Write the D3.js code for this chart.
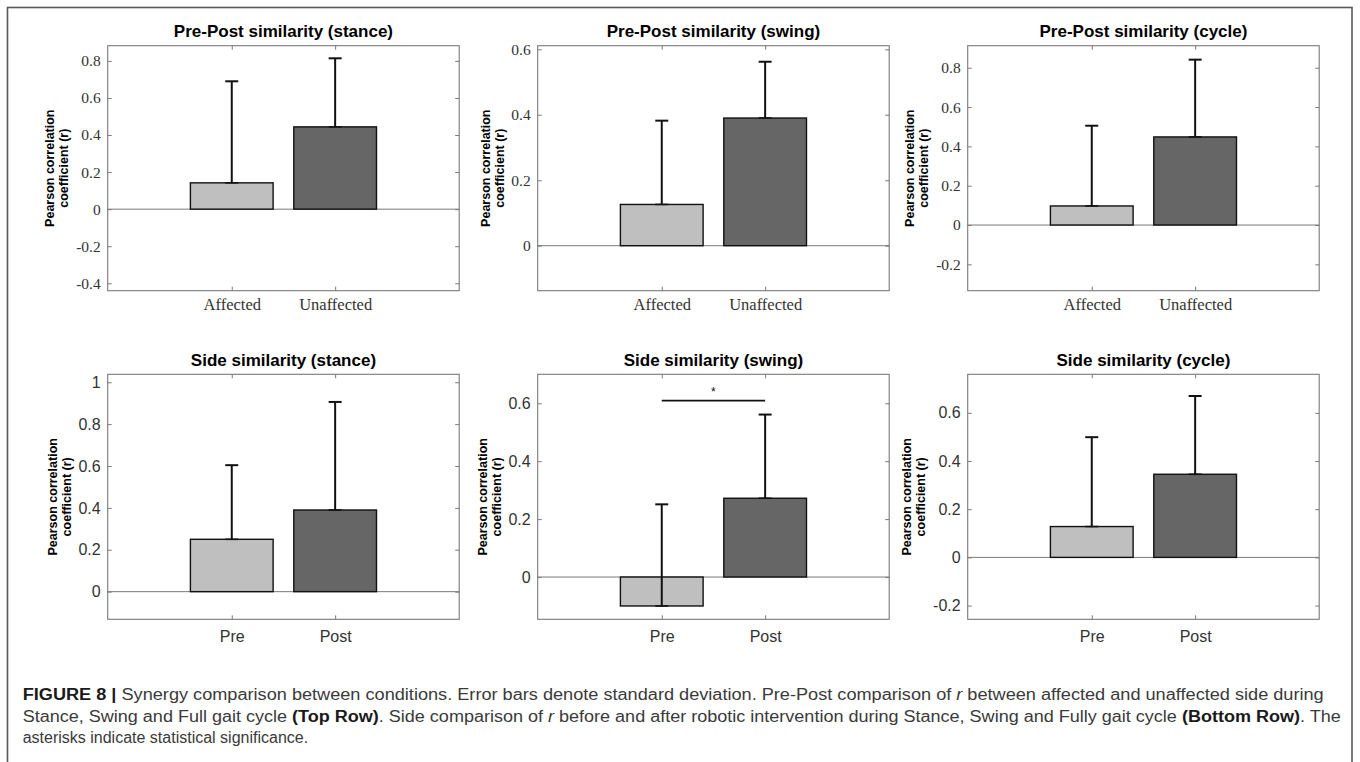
<!DOCTYPE html>
<html><head><meta charset="utf-8">
<script src="https://cdn.jsdelivr.net/npm/d3@7"></script>
<style>body{margin:0;background:#fff}svg{display:block}</style>
</head><body><svg id="c" width="1360" height="762"></svg>
<script>
// ---------- data ----------
const panelTitles = [
  "Pre-Post similarity (stance)", "Pre-Post similarity (swing)", "Pre-Post similarity (cycle)",
  "Side similarity (stance)", "Side similarity (swing)", "Side similarity (cycle)"
];
const categoriesTop = ["Affected", "Unaffected"];
const categoriesBottom = ["Pre", "Post"];
const meanValues = [
  [0.142, 0.444], [0.126, 0.390], [0.097, 0.448],
  [0.250, 0.390], [-0.100, 0.272], [0.128, 0.345]
];
const sdValues = [
  [0.548, 0.370], [0.256, 0.172], [0.408, 0.393],
  [0.354, 0.516], [0.351, 0.289], [0.371, 0.325]
];
const yDomains = [
  [-0.44, 0.882], [-0.1375, 0.611], [-0.334, 0.912],
  [-0.132, 1.038], [-0.146, 0.70], [-0.257, 0.76]
];
const yTickValues = [
  [-0.4, -0.2, 0, 0.2, 0.4, 0.6, 0.8], [0, 0.2, 0.4, 0.6], [-0.2, 0, 0.2, 0.4, 0.6, 0.8],
  [0, 0.2, 0.4, 0.6, 0.8, 1], [0, 0.2, 0.4, 0.6], [-0.2, 0, 0.2, 0.4, 0.6]
];
const yTickLabels = [
  ["-0.4", "-0.2", "0", "0.2", "0.4", "0.6", "0.8"], ["0", "0.2", "0.4", "0.6"], ["-0.2", "0", "0.2", "0.4", "0.6", "0.8"],
  ["0", "0.2", "0.4", "0.6", "0.8", "1"], ["0", "0.2", "0.4", "0.6"], ["-0.2", "0", "0.2", "0.4", "0.6"]
];
const yLabelLines = ["Pearson correlation", "coefficient (r)"];
const sigPanel = 4;
const sigLevel = 0.609;
const sigLabel = "*";
const barColors = ["#bfbfbf", "#666666"];
const captionLines = [
  [["FIGURE 8 |", "b"], [" Synergy comparison between conditions. Error bars denote standard deviation. Pre-Post comparison of ", "n"], ["r", "i"], [" between affected and unaffected side during", "n"]],
  [["Stance, Swing and Full gait cycle ", "n"], ["(Top Row)", "b"], [". Side comparison of ", "n"], ["r", "i"], [" before and after robotic intervention during Stance, Swing and Fully gait cycle ", "n"], ["(Bottom Row)", "b"], [". The", "n"]],
  [["asterisks indicate statistical significance.", "n"]]
];

// ---------- layout ----------
const svg = d3.select("#c");
const colX = [107.7, 537.7, 967.7];
const rowY = [45.7, 374.3];
const W = 351.5, H = 245;
const AX = "#7a7a7a";
const SERIF = "'Liberation Serif','Times New Roman',serif";
const SANS = "'Liberation Sans',Arial,Helvetica,sans-serif";

// outer frame
svg.append("rect").attr("x", 7.5).attr("y", 7.5).attr("width", 1344.5).attr("height", 800)
  .attr("fill", "none").attr("stroke", "#5a5a5a").attr("stroke-width", 1.6);

panelTitles.forEach((title, i) => {
  const col = i % 3, row = Math.floor(i / 3);
  const top = row === 0;
  const cats = top ? categoriesTop : categoriesBottom;
  const tickFont = top ? SERIF : SANS;
  const tickSize = top ? 15.5 : 16;
  const xlabSize = top ? 16.5 : 16;
  const g = svg.append("g").attr("transform", `translate(${colX[col]},${rowY[row]})`);

  const x = d3.scaleLinear().domain([-0.2, 3.2]).range([0, W]);
  const y = d3.scaleLinear().domain(yDomains[i]).range([H, 0]);
  const bw = x(0.8) - x(0);

  // zero baseline
  g.append("line").attr("x1", 0).attr("x2", W).attr("y1", y(0)).attr("y2", y(0))
    .attr("stroke", AX).attr("stroke-width", 1);

  // bars
  g.selectAll("rect.bar").data(meanValues[i]).join("rect").attr("class", "bar")
    .attr("x", (d, k) => x(k + 1) - bw / 2)
    .attr("y", d => y(Math.max(0, d)))
    .attr("width", bw)
    .attr("height", d => Math.abs(y(d) - y(0)))
    .attr("fill", (d, k) => barColors[k])
    .attr("stroke", "#111").attr("stroke-width", 1.4);

  // error bars (upper only, caps at both ends)
  const eb = g.selectAll("g.eb").data(meanValues[i]).join("g").attr("class", "eb");
  eb.append("line").attr("x1", (d, k) => x(k + 1)).attr("x2", (d, k) => x(k + 1))
    .attr("y1", d => y(d)).attr("y2", (d, k) => y(d + sdValues[i][k]))
    .attr("stroke", "#111").attr("stroke-width", 2);
  eb.append("line").attr("x1", (d, k) => x(k + 1) - 6.5).attr("x2", (d, k) => x(k + 1) + 6.5)
    .attr("y1", (d, k) => y(d + sdValues[i][k])).attr("y2", (d, k) => y(d + sdValues[i][k]))
    .attr("stroke", "#111").attr("stroke-width", 2);
  eb.append("line").attr("x1", (d, k) => x(k + 1) - 6.5).attr("x2", (d, k) => x(k + 1) + 6.5)
    .attr("y1", d => y(d)).attr("y2", d => y(d))
    .attr("stroke", "#111").attr("stroke-width", 1.6);

  // box
  g.append("rect").attr("x", 0).attr("y", 0).attr("width", W).attr("height", H)
    .attr("fill", "none").attr("stroke", AX).attr("stroke-width", 1.1);

  const styleAxis = sel => {
    sel.select(".domain").remove();
    sel.selectAll(".tick line").attr("stroke", AX);
    sel.selectAll(".tick text").attr("fill", "#333").attr("font-family", tickFont);
  };
  // left axis
  const yl = g.append("g").call(d3.axisLeft(y).tickValues(yTickValues[i]).tickSize(-4).tickPadding(7)
      .tickFormat(d => yTickLabels[i][yTickValues[i].indexOf(d)]))
    .attr("font-size", tickSize).call(styleAxis);
  g.append("g").attr("transform", `translate(${W},0)`)
    .call(d3.axisRight(y).tickValues(yTickValues[i]).tickSize(-4).tickFormat(""))
    .call(styleAxis);
  g.append("g").call(d3.axisTop(x).tickValues([1, 2]).tickSize(-4).tickFormat(""))
    .call(styleAxis);
  g.append("g").attr("transform", `translate(0,${H})`)
    .call(d3.axisBottom(x).tickValues([1, 2]).tickSize(-4).tickPadding(top ? 7.6 : 11)
      .tickFormat(d => cats[d - 1]))
    .attr("font-size", xlabSize).call(styleAxis);

  // title
  g.append("text").attr("x", W / 2).attr("y", -8.4).attr("text-anchor", "middle")
    .attr("font-family", SANS).attr("font-weight", "bold").attr("font-size", 17)
    .attr("fill", "#000").text(title);

  // y label positioned left of widest tick label
  const bb = yl.node().getBBox();
  const base2 = bb.x - 5 - 2.8;
  const yLab = g.append("text").attr("transform", `translate(0,${H / 2}) rotate(-90)`)
    .attr("text-anchor", "middle").attr("font-family", SANS).attr("font-weight", "bold")
    .attr("font-size", 12.5).attr("fill", "#000");
  yLabelLines.forEach((t, j) => {
    yLab.append("tspan").attr("x", 0).attr("y", base2 - (yLabelLines.length - 1 - j) * 14).text(t);
  });

  // significance marker
  if (i === sigPanel) {
    g.append("line").attr("x1", x(1)).attr("x2", x(2)).attr("y1", y(sigLevel)).attr("y2", y(sigLevel))
      .attr("stroke", "#111").attr("stroke-width", 1.6);
    g.append("text").attr("x", x(1.5)).attr("y", y(sigLevel) - 4.2).attr("text-anchor", "middle")
      .attr("font-family", SANS).attr("font-size", 12).attr("fill", "#111").text(sigLabel);
  }
});

// caption
const capX = 22.7;
const capY = [700, 721.5, 742.5];
const capLen = [1301, 1318, null];
captionLines.forEach((segs, li) => {
  const t = svg.append("text").attr("x", capX).attr("y", capY[li])
    .attr("font-family", SANS).attr("font-size", 16).attr("fill", "#3a3a3a")
    .attr("xml:space", "preserve").style("white-space", "pre");
  segs.forEach(([s, st]) => {
    const sp = t.append("tspan").text(s);
    if (st === "b") sp.attr("font-weight", "bold").attr("fill", "#1a1a1a");
    if (st === "i") sp.attr("font-style", "italic");
  });
  if (capLen[li]) t.attr("textLength", capLen[li]).attr("lengthAdjust", "spacingAndGlyphs");
});
</script></body></html>
